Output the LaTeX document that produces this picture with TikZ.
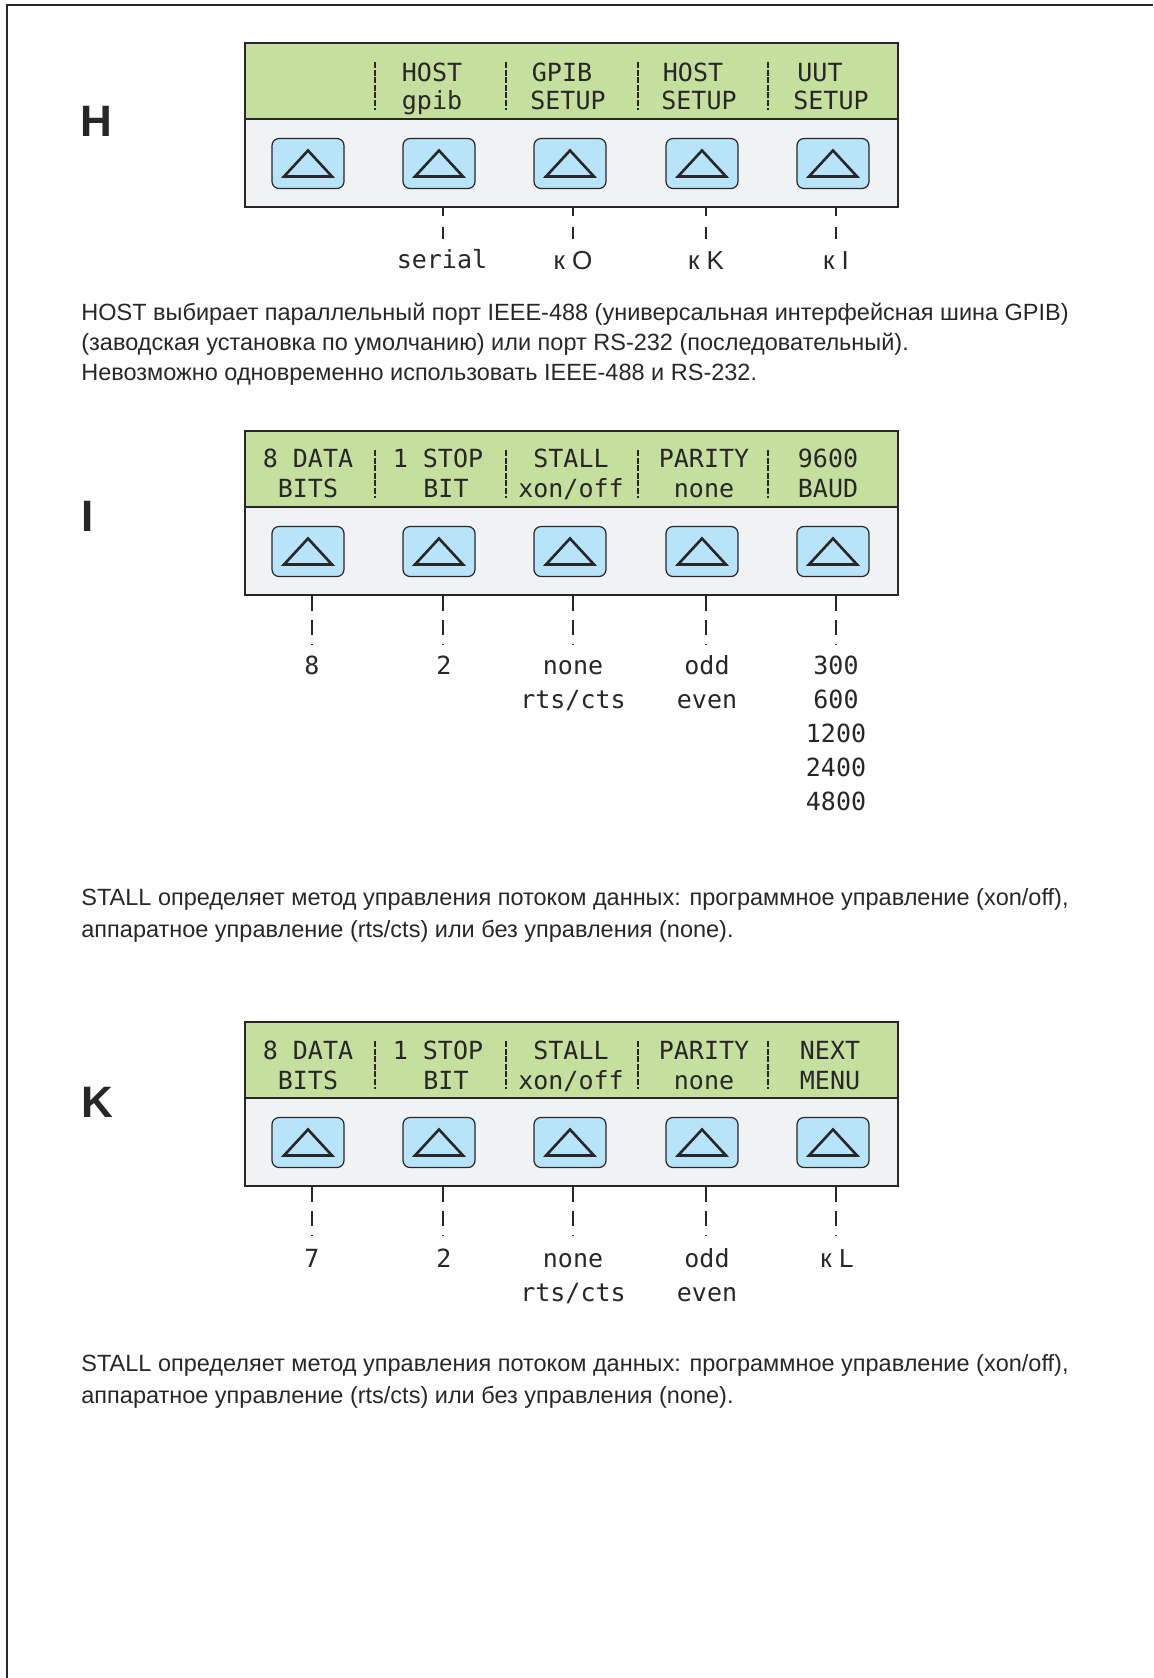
\documentclass[tikz,border=0pt]{standalone}
\usepackage{fontspec}
\setmainfont{Liberation Sans}
\newfontfamily\lcdfont{DejaVu Sans Mono}
\usetikzlibrary{positioning,calc}

\definecolor{lcdgreen}{RGB}{197,224,158}
\definecolor{keygray}{RGB}{241,242,244}
\definecolor{keyblue}{RGB}{183,228,248}
\definecolor{inkgray}{RGB}{40,38,40}

\tikzset{
  frameline/.style={draw=inkgray, line width=0.7pt},
  panelbox/.style={draw=inkgray, line width=1pt},
  lcdsep/.style={draw=inkgray, line width=0.9pt, dash pattern=on 3pt off 0.8pt},
  keybtn/.style={draw=inkgray, fill=keyblue, rounded corners=3.5pt,
    minimum width=36pt, minimum height=25pt, inner sep=0pt, line width=0.6pt,
    path picture={\draw[sharp corners, line width=1.3pt, line join=miter]
      ([yshift=6.5pt]path picture bounding box.center) -- ++(12pt,-13pt) -- ++(-24pt,0) -- cycle;}},
  lcdtext/.style={font=\lcdfont\fontsize{12.5}{14}\selectfont, text=inkgray, inner sep=0pt, anchor=base},
  gotext/.style={font=\fontsize{13}{15}\selectfont, text=inkgray, inner sep=0pt, anchor=base},
  bigletter/.style={font=\bfseries\fontsize{22}{24}\selectfont, text=inkgray, inner sep=0pt, anchor=base},
  bodytext/.style={font=\fontsize{11.75}{14}\selectfont, text=inkgray, inner sep=0pt, anchor=base west},
  tickshort/.style={draw=inkgray, line width=0.75pt, dash pattern=on 4.5pt off 5.5pt on 6pt off 20pt},
  ticklong/.style={draw=inkgray, line width=0.75pt, dash pattern=on 8pt off 4.5pt on 7.5pt off 4.5pt on 0.6pt off 20pt}
}

% panneau LCD : #1 = haut, #2 = prefixe des noms
\newcommand{\lcdframe}[2]{%
  \fill[keygray] (245,#1) rectangle (898,#1+164);
  \fill[lcdgreen] (245,#1) rectangle (898,#1+76);
  \draw[panelbox] (245,#1+76) -- (898,#1+76);
  \draw[panelbox] (245,#1) rectangle (898,#1+164);
  \foreach \x in {375,506,638,768}
    \draw[lcdsep] (\x,#1+19) -- (\x,#1+67);
  \foreach \x [count=\i] in {308,439,570,702,833}
    \node[keybtn] (#2k\i) at (\x,#1+120.5) {};
  \foreach \x [count=\i] in {312,443,573,706,836}
    \coordinate (#2t\i) at (\x,#1+164);
}

\begin{document}
\begin{tikzpicture}[x=0.5pt,y=-0.5pt]
\useasboundingbox (0,0) rectangle (1153,1678);

% Cadre
\draw[frameline] (7,1678) -- (7,5) -- (1153,5);

% ---------- H
\node[bigletter] (lh) at (96,136) {H};
\lcdframe{43}{h}
\foreach \x/\t [count=\i] in {432/HOST,562/GPIB,693/HOST,820/UUT}
  \node[lcdtext] (hu\i) at (\x,81) {\t};
\foreach \x/\t [count=\i] in {432/gpib,568/SETUP,699/SETUP,831/SETUP}
  \node[lcdtext] (hd\i) at (\x,109) {\t};
\foreach \i in {2,...,5}
  \coordinate (hb\i) at ($(ht\i)+(0,32)$);
\foreach \i in {2,...,5}
  \draw[tickshort] (ht\i) -- (hb\i);
\node[lcdtext] (hserial) at (442,268) {serial};
\node[gotext] (hgoo) at (573,269) {к O};
\node[gotext] (hgok) at (706,269) {к K};
\node[gotext] (hgoi) at (836,269) {к I};

\node[bodytext] (ptxta) at (81,320) {HOST выбирает параллельный порт IEEE-488 (универсальная интерфейсная шина GPIB)};
\node[bodytext] (ptxtb) at (81,350) {(заводская установка по умолчанию) или порт RS-232 (последовательный).};
\node[bodytext] (ptxtc) at (81,380) {Невозможно одновременно использовать IEEE-488 и RS-232.};

% ---------- I
\node[bigletter] (li) at (88,531) {I};
\lcdframe{431}{i}
\foreach \x/\t [count=\i] in {308/8 DATA,438/1 STOP,571/STALL,704/PARITY,828/9600}
  \node[lcdtext] (iu\i) at (\x,467) {\t};
\foreach \x/\t [count=\i] in {308/BITS,446/BIT,571/{xon/off},704/none,828/BAUD}
  \node[lcdtext] (id\i) at (\x,497) {\t};
\foreach \i in {1,...,5}
  \coordinate (ib\i) at ($(it\i)+(0,50)$);
\foreach \i in {1,...,5}
  \draw[ticklong] (it\i) -- (ib\i);
\node[lcdtext] (idata) at (312,674) {8};
\node[lcdtext] (istop) at (444,674) {2};
\node[lcdtext] (istalla) at (573,674) {none};
\node[lcdtext] (istallb) at (573,708) {rts/cts};
\node[lcdtext] (ipara) at (707,674) {odd};
\node[lcdtext] (iparb) at (707,708) {even};
\foreach \b [count=\j] in {300,600,1200,2400,4800}
  \node[lcdtext] (ibaud\j) at (836,640+34*\j) {\b};

\node[bodytext] (stxta) at (81,905) {STALL определяет метод управления потоком данных: программное управление (xon/off),};
\node[bodytext] (stxtb) at (81,937) {аппаратное управление (rts/cts) или без управления (none).};

% ---------- K
\node[bigletter] (lk) at (97,1117) {K};
\lcdframe{1022}{k}
\foreach \x/\t [count=\i] in {308/8 DATA,438/1 STOP,571/STALL,704/PARITY,830/NEXT}
  \node[lcdtext] (ku\i) at (\x,1059) {\t};
\foreach \x/\t [count=\i] in {308/BITS,446/BIT,571/{xon/off},704/none,830/MENU}
  \node[lcdtext] (kd\i) at (\x,1089) {\t};
\foreach \i in {1,...,5}
  \coordinate (kb\i) at ($(kt\i)+(0,50)$);
\foreach \i in {1,...,5}
  \draw[ticklong] (kt\i) -- (kb\i);
\node[lcdtext] (kdata) at (312,1267) {7};
\node[lcdtext] (kstop) at (444,1267) {2};
\node[lcdtext] (kstalla) at (573,1267) {none};
\node[lcdtext] (kstallb) at (573,1301) {rts/cts};
\node[lcdtext] (kpara) at (707,1267) {odd};
\node[lcdtext] (kparb) at (707,1301) {even};
\node[gotext] (kgol) at (837,1267) {к L};

\node[bodytext] (ktxta) at (81,1371) {STALL определяет метод управления потоком данных: программное управление (xon/off),};
\node[bodytext] (ktxtb) at (81,1403) {аппаратное управление (rts/cts) или без управления (none).};

\end{tikzpicture}
\end{document}
